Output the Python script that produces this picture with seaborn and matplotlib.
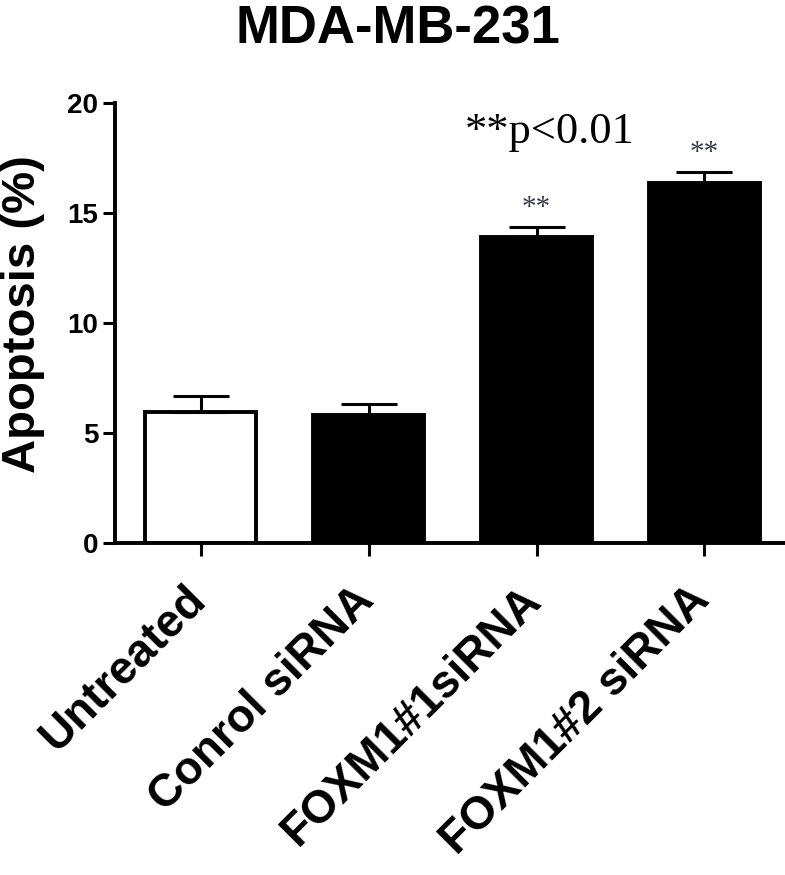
import matplotlib
matplotlib.use("Agg")
import matplotlib.pyplot as plt
import matplotlib.transforms as mtransforms
import seaborn as sns
import pandas as pd

# data
groups = ['Untreated', 'Conrol siRNA', 'FOXM1#1siRNA', 'FOXM1#2 siRNA']
apoptosis = [5.95, 5.8, 13.9, 16.35]
sem = [0.75, 0.5, 0.45, 0.5]
bar_colors = ['white', 'black', 'black', 'black']
stars = ['', '', '**', '**']
yticks = [0, 5, 10, 15, 20]

df = pd.DataFrame({'group': groups, 'apoptosis': apoptosis})

sns.set_style('ticks')
plt.rcParams['font.family'] = ['Liberation Sans', 'DejaVu Sans']
plt.rcParams['text.color'] = 'black'
plt.rcParams['axes.labelcolor'] = 'black'
plt.rcParams['xtick.color'] = 'black'
plt.rcParams['ytick.color'] = 'black'
plt.rcParams['axes.edgecolor'] = 'black'

fig = plt.figure(figsize=(7.85, 8.75), dpi=100)
ax = fig.add_axes([0.1465, 0.3794, 0.86, 0.5029])

sns.barplot(data=df, x='group', y='apoptosis', hue='group', palette=bar_colors,
            legend=False, width=0.66, edgecolor='black', linewidth=2.8,
            errorbar=None, ax=ax)

# upward-only error bars
ax.errorbar(range(len(groups)), apoptosis, yerr=[[0] * len(sem), sem],
            fmt='none', ecolor='black', elinewidth=2.2, capsize=20,
            capthick=2.2, zorder=1)

# significance stars
for i, (v, e, s) in enumerate(zip(apoptosis, sem, stars)):
    if s:
        ax.text(i, v + e + 0.3, s, ha='center', va='bottom',
                fontsize=21, color='#3a3a4a', family='Liberation Serif')

ax.text(2.08, 18.7, '**p<0.01', ha='center', va='center',
        fontsize=32, family='Liberation Serif', color='black')

ax.set_ylim(0, 20)
ax.set_xlim(-0.51, 3.51)
ax.set_yticks(yticks)
ax.set_yticklabels([str(t) for t in yticks], fontsize=20, fontweight='bold')
ax.set_xlabel('')
ax.set_ylabel('Apoptosis (%)', fontsize=34, fontweight='bold')
ax.yaxis.set_label_coords(-0.104, 0.52)

for side in ['top', 'right']:
    ax.spines[side].set_visible(False)
for side in ['left', 'bottom']:
    ax.spines[side].set_linewidth(2.8)
ax.tick_params(axis='both', width=2.2, length=9)
ax.tick_params(axis='y', pad=3)
ax.tick_params(axis='x', pad=16)

ax.set_xticks(range(len(groups)))
ax.set_xticklabels(groups, rotation=45, ha='right', va='top',
                   rotation_mode='anchor', fontsize=33, fontweight='bold')
offset = mtransforms.ScaledTranslation(-0.17, 0, fig.dpi_scale_trans)
for lab in ax.get_xticklabels():
    lab.set_transform(lab.get_transform() + offset)

fig.text(0.507, 0.966, 'MDA-MB-231', ha='center', va='center',
         fontsize=38, fontweight='bold')

fig.savefig('out.png', dpi=100)
